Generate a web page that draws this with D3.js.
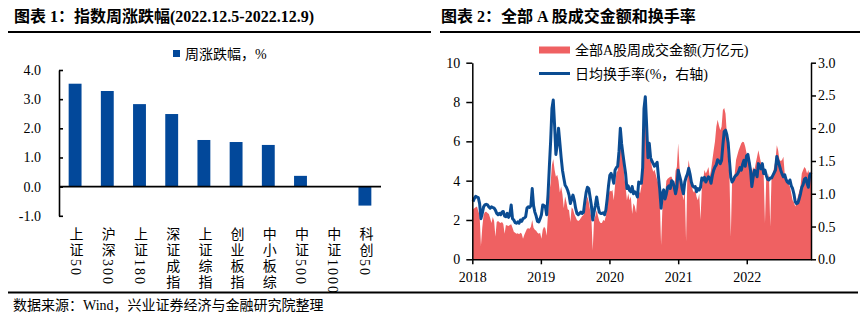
<!DOCTYPE html>
<html>
<head>
<meta charset="utf-8">
<title>指数周涨跌幅 / 成交金额和换手率</title>
<script src="https://d3js.org/d3.v7.min.js"></script>
<style>
body { margin: 0; background: #fff; }
svg text { fill: #000; }
.num { font-family: "Liberation Serif", "Noto Sans CJK SC", serif; font-size: 14px; }
.cjk { font-family: "Liberation Serif", "Noto Sans CJK SC", serif; font-size: 14px; }
.ttl { font-family: "Liberation Serif", "Noto Sans CJK SC", serif; font-size: 16px; font-weight: bold; }
</style>
</head>
<body>
<script>
// ---- chart 1 data: weekly change, %
const indexNames = ["上证50", "沪深300", "上证180", "深证成指", "上证综指", "创业板指", "中小板综", "中证500", "中证1000", "科创50"];
const weekChange = [3.53, 3.28, 2.83, 2.49, 1.60, 1.53, 1.43, 0.37, 0.02, -0.65];
const leftTicks = [-1, 0, 1, 2, 3, 4];

// ---- chart 2 data: weekly, first week ending 2018-01-05
const firstWeek = new Date(2018, 0, 5);
// 全部A股周成交金额 (万亿元)
const weeklyAmount = [
  2.55,2.60,2.65,2.68,2.45,2.25,0.68,1.60,2.25,2.40,2.42,2.35,2.30,2.10,1.85,2.15,1.95,1.15,1.90,1.95,1.88,1.85,1.90,1.80,1.30,1.75,
  1.72,1.70,1.75,1.78,1.60,1.40,1.35,1.30,1.32,1.28,1.35,1.30,1.05,1.25,1.40,1.55,1.58,1.55,1.65,2.00,1.60,1.50,1.45,1.35,1.30,1.35,
  1.05,1.50,1.65,1.57,1.20,2.35,3.40,3.90,4.80,5.10,4.55,4.20,4.30,4.00,3.40,3.70,3.30,2.60,3.20,2.90,2.55,2.50,1.90,2.65,2.55,2.30,
  2.15,2.00,1.95,2.00,2.10,2.20,2.25,2.50,2.95,3.20,2.90,2.50,2.10,0.45,2.00,2.20,2.50,2.20,1.95,1.85,1.85,2.00,1.95,2.20,2.70,3.30,
  3.50,3.45,3.52,3.00,3.78,4.40,4.50,5.20,5.75,5.80,5.20,4.20,3.70,3.00,3.35,3.00,3.20,2.30,2.85,2.70,2.35,3.30,3.50,3.35,3.70,4.30,
  7.20,7.60,6.20,5.40,5.05,5.20,4.70,4.45,4.55,4.30,4.05,3.86,3.00,0.72,2.60,3.35,3.20,4.00,4.10,4.15,4.20,4.20,4.00,3.50,4.50,4.70,
  5.90,4.70,3.86,3.40,3.00,3.60,0.90,4.40,5.05,4.54,4.00,3.52,3.40,3.52,3.17,3.00,3.35,2.00,3.70,4.05,4.54,4.37,4.50,4.70,4.20,4.54,
  5.05,5.55,6.00,6.74,7.10,6.80,6.57,6.74,7.60,7.70,7.40,6.40,5.05,4.20,1.15,4.00,4.20,4.37,5.05,5.30,5.55,5.73,5.90,5.98,5.95,5.73,
  5.40,5.20,5.05,4.90,4.37,4.70,4.54,4.90,5.22,5.55,5.22,4.90,4.60,4.37,1.83,4.20,4.03,4.37,1.66,4.20,4.37,4.70,5.05,5.80,5.55,5.05,
  5.00,5.05,5.22,4.37,4.03,3.86,3.80,3.69,3.35,3.00,2.90,2.68,2.85,3.20,3.45,3.69,4.37,4.54,4.70,4.60,4.37,4.54,4.20,4.50
];
// 日均换手率 (%, 右轴)
const turnoverRate = [
  0.88,0.93,0.96,0.95,0.94,0.85,0.62,0.70,0.80,0.83,0.84,0.83,0.80,0.78,0.80,0.79,0.78,0.75,0.70,0.68,0.70,0.68,0.72,0.73,0.66,0.65,
  0.70,0.64,0.68,0.83,0.62,0.60,0.56,0.55,0.57,0.55,0.60,0.58,0.62,0.63,0.65,0.78,0.80,0.79,0.82,1.08,0.82,0.72,0.66,0.58,0.57,0.62,
  0.68,0.83,0.82,0.80,0.68,0.98,1.40,1.80,2.30,2.43,2.05,1.60,1.75,2.00,1.78,1.55,1.36,1.24,1.13,1.10,1.05,0.98,0.85,0.92,0.98,0.90,
  0.78,0.70,0.68,0.70,0.72,0.70,0.72,0.88,1.02,1.10,1.08,0.95,0.82,0.60,0.72,0.82,0.95,0.82,0.72,0.70,0.70,0.71,0.68,0.75,0.92,1.12,
  1.28,1.31,1.25,1.16,1.36,1.40,1.42,1.65,2.00,1.76,1.60,1.45,1.31,1.08,1.12,1.05,1.03,1.11,1.00,1.03,1.00,0.95,1.18,1.16,1.16,1.40,
  2.30,2.48,2.05,1.55,1.77,1.55,1.50,1.46,1.42,1.45,1.48,1.26,1.06,0.78,1.00,1.06,0.92,1.00,1.10,1.12,1.08,1.20,1.18,1.10,1.00,1.10,
  1.36,1.28,1.20,1.08,1.00,1.18,1.25,1.30,1.39,1.30,1.18,1.12,1.10,1.11,1.03,1.08,1.06,1.10,1.24,1.21,1.25,1.18,1.22,1.26,1.24,1.16,
  1.28,1.36,1.41,1.44,1.52,1.50,1.46,1.51,1.75,1.95,1.97,1.90,1.78,1.50,1.25,1.18,1.21,1.26,1.28,1.30,1.34,1.40,1.36,1.45,1.51,1.42,
  1.58,1.60,1.48,1.36,1.11,1.25,1.36,1.32,1.26,1.46,1.41,1.38,1.46,1.31,1.36,1.28,1.22,1.21,1.24,1.24,1.28,1.32,1.36,1.57,1.50,1.43,
  1.36,1.30,1.26,1.29,1.22,1.18,1.16,1.21,1.12,1.08,1.00,0.88,0.85,0.86,0.92,1.00,1.10,1.14,1.22,1.24,1.16,1.10,1.28,1.32
];
const yearTicks = [2018, 2019, 2020, 2021, 2022];
const amountTicks = [0, 2, 4, 6, 8, 10];
const rateTicks = [0, 0.5, 1.0, 1.5, 2.0, 2.5, 3.0];

const barColor = "#02489a";
const areaColor = "#ef6162";
const lineColor = "#0b4c92";

const W = 866, H = 322;
const svg = d3.select("body").append("svg")
  .attr("width", W).attr("height", H)
  .style("background", "#fff");

// titles + rules
svg.append("text").attr("class", "ttl").attr("x", 14).attr("y", 22)
  .text("图表 1：指数周涨跌幅(2022.12.5-2022.12.9)");
svg.append("text").attr("class", "ttl").attr("x", 441).attr("y", 22)
  .text("图表 2：全部 A 股成交金额和换手率");
svg.append("line").attr("x1", 8).attr("x2", 431).attr("y1", 32).attr("y2", 32)
  .attr("stroke", "#000").attr("stroke-width", 2);
svg.append("line").attr("x1", 440).attr("x2", 860).attr("y1", 32).attr("y2", 32)
  .attr("stroke", "#000").attr("stroke-width", 2);
svg.append("line").attr("x1", 8).attr("x2", 858).attr("y1", 292.5).attr("y2", 292.5)
  .attr("stroke", "#000").attr("stroke-width", 2);
svg.append("text").attr("class", "cjk").attr("x", 13).attr("y", 310)
  .text("数据来源：Wind，兴业证券经济与金融研究院整理");

// ================= chart 1 =================
const x1 = d3.scaleBand().domain(indexNames).range([59, 381])
  .paddingInner(0.6).paddingOuter(0.3);
const y1 = d3.scaleLinear().domain([-1, 4]).range([215.8, 70]);

const g1 = svg.append("g");
g1.selectAll("rect.bar").data(indexNames).enter().append("rect")
  .attr("class", "bar")
  .attr("x", d => x1(d))
  .attr("width", x1.bandwidth())
  .attr("y", (d, i) => y1(Math.max(0, weekChange[i])))
  .attr("height", (d, i) => Math.abs(y1(weekChange[i]) - y1(0)))
  .attr("fill", barColor);

const ax1 = g1.append("g").attr("class", "num")
  .attr("transform", "translate(59,0)")
  .call(d3.axisLeft(y1).tickValues(leftTicks).tickFormat(d => d.toFixed(1))
    .tickSize(-4).tickSizeOuter(0).tickPadding(18));
ax1.selectAll("path,line").attr("stroke", "#000").attr("stroke-width", 1.6);
ax1.selectAll("text").attr("font-size", 14).attr("font-family", "Liberation Serif");

g1.append("line").attr("x1", 59).attr("x2", 381)
  .attr("y1", y1(0)).attr("y2", y1(0))
  .attr("stroke", "#000").attr("stroke-width", 1.8);

// vertical category labels
g1.selectAll("text.cat").data(indexNames).enter().append("text")
  .attr("class", "cjk cat")
  .attr("x", d => x1(d) + x1.bandwidth() / 2)
  .attr("y", 227)
  .attr("writing-mode", "tb")
  .style("text-orientation", "mixed")
  .style("letter-spacing", "2px")
  .attr("font-size", 14)
  .text(d => d);

// legend
g1.append("rect").attr("x", 173).attr("y", 50).attr("width", 7).attr("height", 7).attr("fill", barColor);
g1.append("text").attr("class", "cjk").attr("x", 185).attr("y", 58.5).text("周涨跌幅，%");

// ================= chart 2 =================
const dates = weeklyAmount.map((v, i) => d3.timeDay.offset(firstWeek, 7 * i));
const x2 = d3.scaleTime().domain([new Date(2018, 0, 1), new Date(2022, 11, 9)]).range([472.3, 811]);
const yL = d3.scaleLinear().domain([0, 10]).range([259.3, 62.7]);
const yR = d3.scaleLinear().domain([0, 3]).range([259.3, 62.7]);

const g2 = svg.append("g");
g2.append("path")
  .datum(weeklyAmount)
  .attr("fill", areaColor)
  .attr("d", d3.area()
    .x((d, i) => x2(dates[i]))
    .y0(yL(0))
    .y1(d => yL(d)));

g2.append("path")
  .datum(turnoverRate)
  .attr("fill", "none")
  .attr("stroke", lineColor)
  .attr("stroke-width", 3)
  .attr("stroke-linejoin", "round")
  .attr("d", d3.line()
    .x((d, i) => x2(dates[i]))
    .y(d => yR(d)));

const axB = g2.append("g").attr("transform", "translate(0," + yL(0) + ")")
  .call(d3.axisBottom(x2).tickValues(yearTicks.map(y => new Date(y, 0, 1)))
    .tickFormat(d3.timeFormat("%Y")).tickSize(5).tickSizeOuter(0).tickPadding(8));
const axL = g2.append("g").attr("transform", "translate(472.3,0)")
  .call(d3.axisLeft(yL).tickValues(amountTicks).tickSize(6).tickSizeOuter(0).tickPadding(6));
const axR = g2.append("g").attr("transform", "translate(811,0)")
  .call(d3.axisRight(yR).tickValues(rateTicks).tickFormat(d => d.toFixed(1))
    .tickSize(5).tickSizeOuter(0).tickPadding(2));
[axB, axL, axR].forEach(a => {
  a.selectAll("path,line").attr("stroke", "#000").attr("stroke-width", 1.5);
  a.selectAll("text").attr("font-size", 14).attr("font-family", "Liberation Serif").attr("fill", "#000");
});

// legend
g2.append("rect").attr("x", 539).attr("y", 46.5).attr("width", 31).attr("height", 7).attr("fill", areaColor);
g2.append("text").attr("class", "cjk").attr("x", 575).attr("y", 55).text("全部A股周成交金额(万亿元)");
g2.append("line").attr("x1", 539).attr("x2", 570).attr("y1", 73.5).attr("y2", 73.5)
  .attr("stroke", lineColor).attr("stroke-width", 3);
g2.append("text").attr("class", "cjk").attr("x", 575).attr("y", 78.5).text("日均换手率(%，右轴)");
</script>
</body>
</html>
